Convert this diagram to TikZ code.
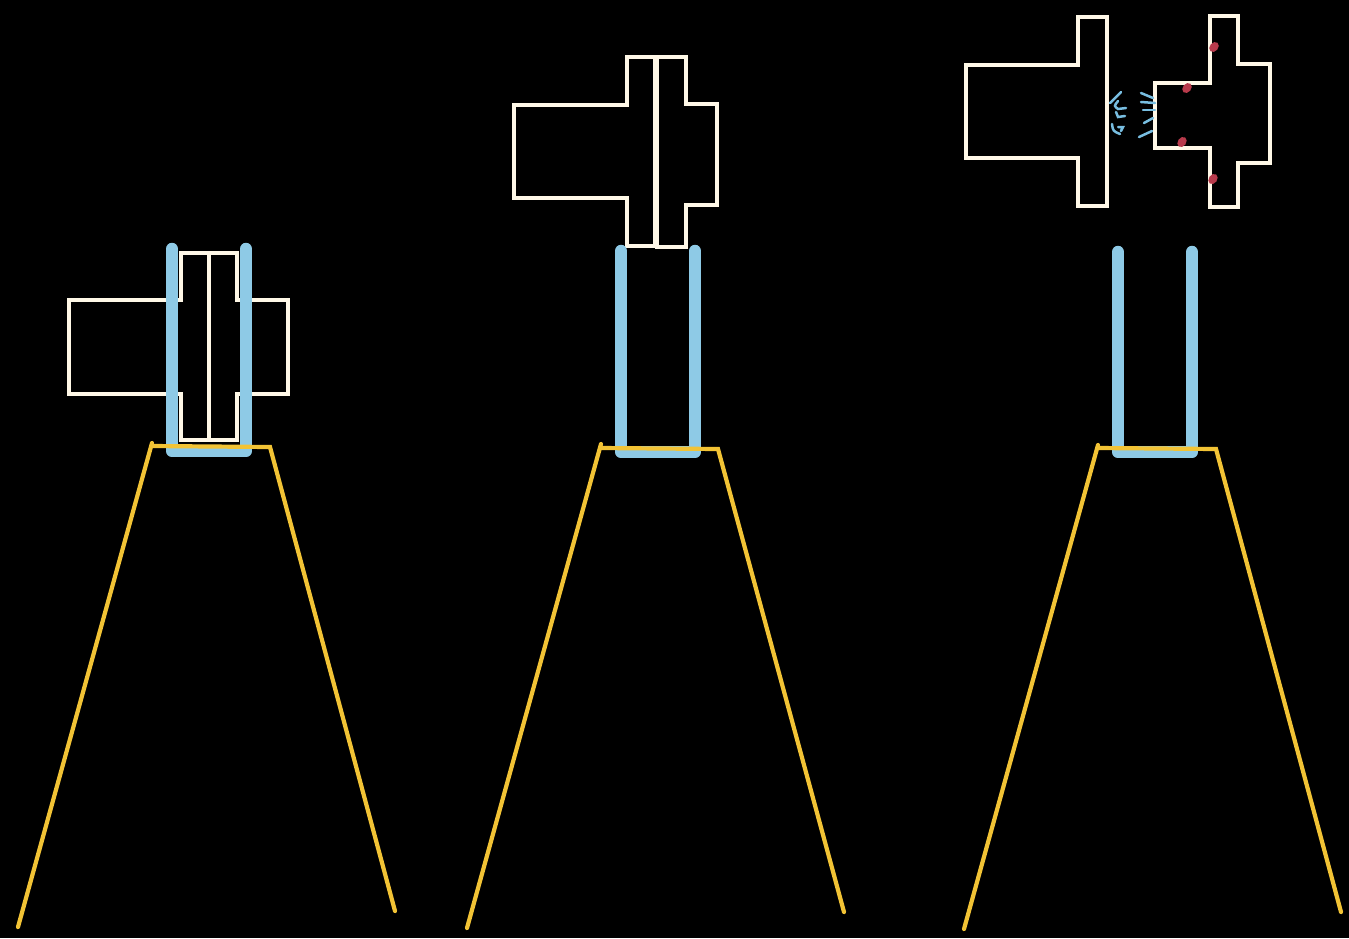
\documentclass[tikz,border=0pt]{standalone}
\begin{document}
\begin{tikzpicture}[x=1pt,y=-1pt,
  outline/.style={draw=cream,line width=3.4pt,line join=miter},
  tube/.style={draw=tubeblue,line width=12.5pt,line cap=round,line join=round},
  stand/.style={draw=standyellow,line width=4.2pt,line cap=round,line join=miter},
  spark/.style={draw=sparkblue,line width=2.5pt,line cap=round},
  drop/.style={fill=dropred}]
\definecolor{cream}{RGB}{255,248,231}
\definecolor{tubeblue}{RGB}{142,202,230}
\definecolor{sparkblue}{RGB}{120,190,225}
\definecolor{standyellow}{RGB}{242,195,53}
\definecolor{dropred}{RGB}{184,58,75}
% canvas
\fill[black] (0,0) rectangle (1349,938);
\useasboundingbox (0,0) rectangle (1349,938);

% ---- first stage: both pieces seated inside the tube ----
\draw[outline] (69,300) -- (181,300) -- (181,253) -- (209,253) -- (209,440) -- (181,440) -- (181,394) -- (69,394) -- cycle;
\draw[outline] (209,253) -- (237,253) -- (237,300) -- (288,300) -- (288,394) -- (237,394) -- (237,440) -- (209,440) -- cycle;
\draw[tube] (172,249) -- (172,451) -- (246,451) -- (246,249);
\draw[stand] (18,927) -- (152,443);
\draw[stand] (152,446) -- (270,447) -- (395,911);

% ---- second stage: pieces lifted out, still joined ----
\draw[outline] (514,105) -- (627,105) -- (627,57) -- (655,57) -- (655,246) -- (627,246) -- (627,198) -- (514,198) -- cycle;
\draw[outline] (657,57) -- (686,57) -- (686,104) -- (717,104) -- (717,205) -- (686,205) -- (686,247) -- (657,247) -- cycle;
\draw[tube] (621,251) -- (621,452) -- (695,452) -- (695,251);
\draw[stand] (467,928) -- (601,444);
\draw[stand] (601,448) -- (718,449) -- (844,912);

% ---- third stage: pieces separated ----
\draw[outline] (966,65) -- (1078,65) -- (1078,17) -- (1107,17) -- (1107,206) -- (1078,206) -- (1078,158) -- (966,158) -- cycle;
\draw[outline] (1155,83) -- (1210,83) -- (1210,16) -- (1238,16) -- (1238,64) -- (1270,64) -- (1270,163) -- (1238,163) -- (1238,207) -- (1210,207) -- (1210,148) -- (1155,148) -- cycle;
% droplets
\fill[drop,rotate around={50:(1214,47)}] (1214,47) ellipse (5.5 and 4.2);
\fill[drop,rotate around={50:(1187,88)}] (1187,88) ellipse (5.5 and 4.2);
\fill[drop,rotate around={55:(1182,142)}] (1182,142) ellipse (5.5 and 4.2);
\fill[drop,rotate around={55:(1213,179)}] (1213,179) ellipse (5.5 and 4.2);
% release marks between the pieces
\draw[spark] (1110,103) -- (1121,92);
\draw[spark] (1118,101) .. controls (1114,106) .. (1118,109) -- (1126,108);
\draw[spark] (1116,112) -- (1118,117) -- (1125,116);
\draw[spark] (1112,124) .. controls (1113,131) .. (1120,134);
\draw[spark] (1118,127) -- (1123,127) -- (1121,131);
\draw[spark] (1141,93) -- (1153,98);
\draw[spark] (1141,102) -- (1155,103);
\draw[spark] (1143,110) -- (1155,110);
\draw[spark] (1144,123) -- (1153,118);
\draw[spark] (1139,137) -- (1152,131);
\draw[tube] (1118,252) -- (1118,452) -- (1192,452) -- (1192,252);
\draw[stand] (964,929) -- (1098,445);
\draw[stand] (1098,448) -- (1216,449) -- (1341,912);
\end{tikzpicture}
\end{document}
